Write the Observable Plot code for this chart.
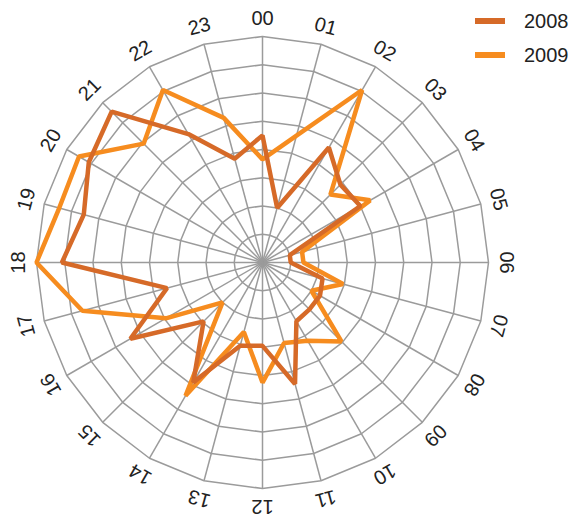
<!DOCTYPE html>
<html>
<head>
<meta charset="utf-8">
<script src="https://cdn.jsdelivr.net/npm/d3@7"></script>
<script src="https://cdn.jsdelivr.net/npm/@observablehq/plot@0.6"></script>
<style>
  body { margin: 0; background: #fff; }
  #wrap { position: relative; width: 573px; height: 517px; font-family: "Liberation Sans", Arial, sans-serif; }
  #legend { position: absolute; left: 475px; top: 4px; }
  .row { display: flex; align-items: center; height: 34px; }
  .sw { width: 30px; height: 6px; margin-right: 19px; }
  .lb { font-size: 20px; color: #222; }
</style>
</head>
<body>
<div id="wrap"><div id="legend"></div></div>
<script>
const hours = ["00","01","02","03","04","05","06","07","08","09","10","11","12","13","14","15","16","17","18","19","20","21","22","23"];
const years = ["2008", "2009"];
const colors = ["#d66a28", "#f68c1f"];
const values2008 = [4.5, 2.0, 4.7, 3.9, 4.0, 1.0, 1.0, 2.2, 2.35, 2.35, 2.4, 4.45, 2.95, 3.05, 4.9, 2.95, 5.4, 3.5, 7.1, 6.55, 7.1, 7.55, 5.25, 3.8];
const values2009 = [3.65, 4.65, 7.05, 3.4, 4.4, 1.45, 1.45, 2.95, 2.0, 3.95, 3.2, 2.95, 4.25, 2.55, 5.45, 2.0, 3.95, 6.6, 8.0, 7.45, 7.5, 5.95, 7.05, 5.3];
const rings = [1, 2, 3, 4, 5, 6, 7, 8];
const maxValue = 8;

const K = 10; // degrees of arc per unit
const lon = (i) => 180 - 15 * i;
const lat = (v) => 90 - K * v;

// 2009 first so that 2008 is drawn on top
const series = [];
hours.forEach((h, i) => {
  series.push({year: years[1], i, value: values2009[i]});
});
hours.forEach((h, i) => {
  series.push({year: years[0], i, value: values2008[i]});
});
const ringPts = [];
rings.forEach(r => hours.forEach((h, i) => ringPts.push({ring: r, i})));
const spokes = hours.map((h, i) => ({i, label: h}));

const chart = Plot.plot({
  width: 573,
  height: 517,
  marginLeft: 36,
  marginTop: 36,
  marginRight: 85,
  marginBottom: 29,
  style: {fontFamily: "'Liberation Sans', Arial, sans-serif", background: "transparent", overflow: "visible"},
  projection: {
    type: "azimuthal-equidistant",
    rotate: [0, -90],
    clip: false,
    domain: d3.geoCircle().center([0, 90]).radius(K * maxValue)()
  },
  color: {domain: years, range: colors},
  marks: [
    Plot.link(spokes, {x1: d => lon(d.i), y1: 90, x2: d => lon(d.i), y2: lat(maxValue), stroke: "#9b9b9b", strokeWidth: 1.5, curve: "linear"}),
    Plot.line(ringPts, {x: d => lon(d.i), y: d => lat(d.ring), z: "ring", stroke: "#9b9b9b", strokeWidth: 1.5, curve: "linear-closed"}),
    Plot.line(series, {x: d => lon(d.i), y: d => lat(d.value), z: "year", stroke: "year", strokeWidth: 4.5, curve: "linear-closed", strokeLinejoin: "miter"}),
    Plot.text(spokes, {x: d => lon(d.i), y: lat(8.65), text: "label", rotate: d => 15 * d.i, fontSize: 20, fill: "#222", textAnchor: "middle", lineAnchor: "middle"})
  ]
});
document.getElementById("wrap").prepend(chart);

const legend = document.getElementById("legend");
years.forEach((y, k) => {
  const row = document.createElement("div");
  row.className = "row";
  row.innerHTML = `<div class="sw" style="background:${colors[k]}"></div><span class="lb">${y}</span>`;
  legend.appendChild(row);
});
</script>
</body>
</html>
